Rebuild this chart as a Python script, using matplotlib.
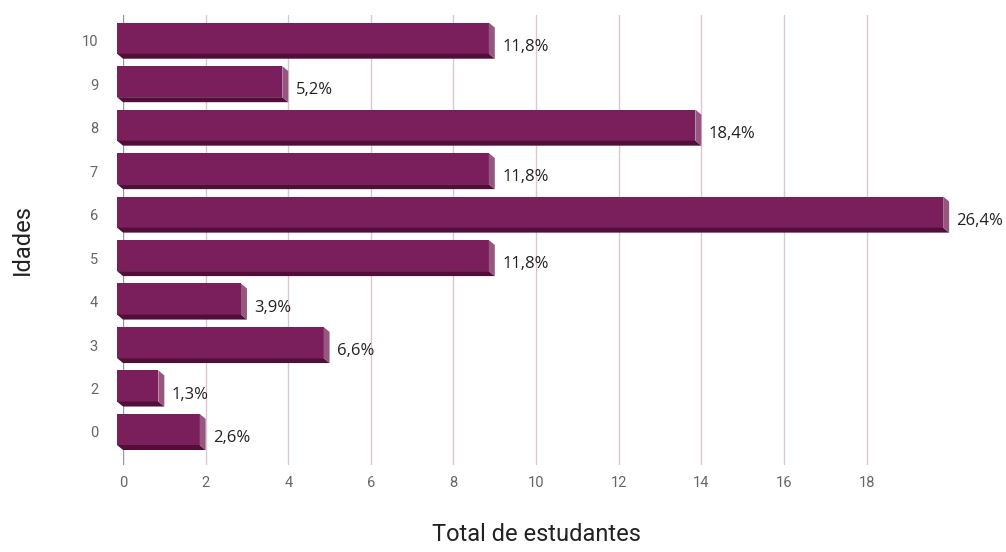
import matplotlib.pyplot as plt
from matplotlib.patches import Polygon

# Idades e número de estudantes (rótulo com o percentual do total)
idades = ["0", "2", "3", "4", "5", "6", "7", "8", "9", "10"]
estudantes = [2, 1, 5, 3, 9, 20, 9, 14, 4, 9]
percentuais = ["2,6%", "1,3%", "6,6%", "3,9%", "11,8%", "26,4%", "11,8%", "18,4%", "5,2%", "11,8%"]

front = "#7b1f5c"
bottom = "#520e39"
side = "#96577f"

fig = plt.figure(figsize=(10.06, 5.52), dpi=100)
ax = fig.add_axes([0.1223, 0.1576, 0.8212, 0.8152])

xmin, xmax = 0, 20
ymin, ymax = -0.76, 9.59
ax.set_xlim(xmin, xmax)
ax.set_ylim(ymin, ymax)

# profundidade do efeito 3D em unidades de dados
H = 0.83
dx = 0.145
dy = 0.115

for i, (v, lab) in enumerate(zip(estudantes, percentuais)):
    lo, hi = i - H / 2, i + H / 2
    ax.barh(i + dy / 2, v, height=H - dy, left=-dx, color=front, zorder=3, clip_on=False)
    ax.add_patch(Polygon([(-dx, lo + dy), (v - dx, lo + dy), (v, lo), (0, lo)],
                         closed=True, color=bottom, zorder=3, lw=0, clip_on=False))
    ax.add_patch(Polygon([(v - dx, lo + dy), (v - dx, hi), (v, hi - dy), (v, lo)],
                         closed=True, color=side, zorder=3, lw=0, clip_on=False))
    ax.text(v + 0.18, i - 0.14, lab, ha="left", va="center", fontsize=12,
            color="#222222", family="Open Sans", clip_on=False)

xticks = list(range(0, 20, 2))
ax.set_xticks(xticks)
ax.set_xticklabels([str(t) for t in xticks])
ax.set_yticks(range(len(idades)))
ax.set_yticklabels(idades)

for t in xticks:
    ax.axvline(t, color="#999999" if t == 0 else "#dcc6d3", lw=1, zorder=1)

for s in ax.spines.values():
    s.set_visible(False)
ax.tick_params(axis="both", length=0, labelsize=10.5, labelcolor="#666666")
ax.tick_params(axis="y", pad=18)
ax.tick_params(axis="x", pad=8)
for lbl in ax.get_xticklabels() + ax.get_yticklabels():
    lbl.set_family("Roboto")

ax.set_xlabel("Total de estudantes", fontsize=17, family="Roboto", color="#222222", labelpad=24)
ax.set_ylabel("Idades", fontsize=17, family="Roboto", color="#222222", labelpad=34)

plt.savefig("out.png", dpi=100)
